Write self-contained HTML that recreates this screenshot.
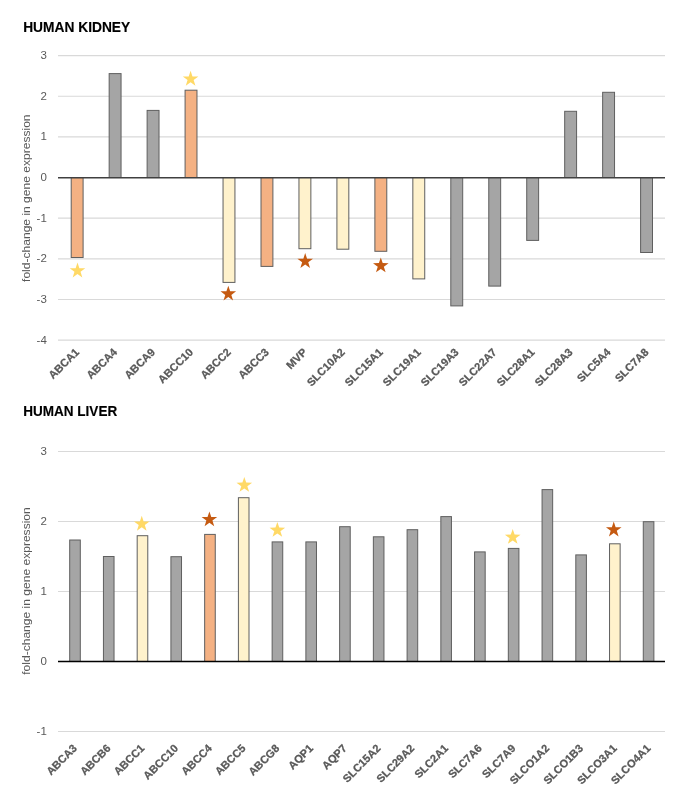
<!DOCTYPE html>
<html><head><meta charset="utf-8"><style>
html,body{margin:0;padding:0;background:#fff;}
body{width:685px;height:798px;overflow:hidden;}
svg{display:block;will-change:transform;}
text{font-family:"Liberation Sans",sans-serif;}
.title{font-size:15.3px;font-weight:bold;fill:#000;stroke:#000;stroke-width:0.15px;}
.ytick{font-size:11.5px;fill:#595959;}
.ytitle{font-size:11px;fill:#595959;}
.xlab{font-size:11px;font-weight:bold;fill:#595959;stroke:#595959;stroke-width:0.25px;}
</style></head><body>
<svg width="685" height="798" viewBox="0 0 685 798">
<rect width="685" height="798" fill="#fff"/>
<text x="23.2" y="31.8" class="title" textLength="107.0" lengthAdjust="spacingAndGlyphs">HUMAN KIDNEY</text>
<line x1="58" x2="665" y1="55.55" y2="55.55" stroke="#D9D9D9" stroke-width="1.15"/>
<text x="46.8" y="58.90" class="ytick" text-anchor="end">3</text>
<line x1="58" x2="665" y1="96.21" y2="96.21" stroke="#D9D9D9" stroke-width="1.15"/>
<text x="46.8" y="99.56" class="ytick" text-anchor="end">2</text>
<line x1="58" x2="665" y1="136.87" y2="136.87" stroke="#D9D9D9" stroke-width="1.15"/>
<text x="46.8" y="140.22" class="ytick" text-anchor="end">1</text>
<text x="46.8" y="180.88" class="ytick" text-anchor="end">0</text>
<line x1="58" x2="665" y1="218.19" y2="218.19" stroke="#D9D9D9" stroke-width="1.15"/>
<text x="46.8" y="221.54" class="ytick" text-anchor="end">-1</text>
<line x1="58" x2="665" y1="258.85" y2="258.85" stroke="#D9D9D9" stroke-width="1.15"/>
<text x="46.8" y="262.20" class="ytick" text-anchor="end">-2</text>
<line x1="58" x2="665" y1="299.51" y2="299.51" stroke="#D9D9D9" stroke-width="1.15"/>
<text x="46.8" y="302.86" class="ytick" text-anchor="end">-3</text>
<line x1="58" x2="665" y1="340.17" y2="340.17" stroke="#D9D9D9" stroke-width="1.15"/>
<text x="46.8" y="343.52" class="ytick" text-anchor="end">-4</text>
<rect x="71.20" y="177.53" width="11.9" height="79.97" fill="#F4B183" stroke="#5f5f5f" stroke-width="1"/>
<rect x="109.16" y="73.60" width="11.9" height="103.93" fill="#A5A5A5" stroke="#5f5f5f" stroke-width="1"/>
<rect x="147.12" y="110.40" width="11.9" height="67.13" fill="#A5A5A5" stroke="#5f5f5f" stroke-width="1"/>
<rect x="185.08" y="90.20" width="11.9" height="87.33" fill="#F4B183" stroke="#5f5f5f" stroke-width="1"/>
<rect x="223.04" y="177.53" width="11.9" height="104.87" fill="#FFF2CC" stroke="#5f5f5f" stroke-width="1"/>
<rect x="261.00" y="177.53" width="11.9" height="88.87" fill="#F4B183" stroke="#5f5f5f" stroke-width="1"/>
<rect x="298.96" y="177.53" width="11.9" height="71.17" fill="#FFF2CC" stroke="#5f5f5f" stroke-width="1"/>
<rect x="336.92" y="177.53" width="11.9" height="71.67" fill="#FFF2CC" stroke="#5f5f5f" stroke-width="1"/>
<rect x="374.88" y="177.53" width="11.9" height="73.77" fill="#F4B183" stroke="#5f5f5f" stroke-width="1"/>
<rect x="412.84" y="177.53" width="11.9" height="101.37" fill="#FFF2CC" stroke="#5f5f5f" stroke-width="1"/>
<rect x="450.80" y="177.53" width="11.9" height="128.37" fill="#A5A5A5" stroke="#5f5f5f" stroke-width="1"/>
<rect x="488.76" y="177.53" width="11.9" height="108.57" fill="#A5A5A5" stroke="#5f5f5f" stroke-width="1"/>
<rect x="526.72" y="177.53" width="11.9" height="62.87" fill="#A5A5A5" stroke="#5f5f5f" stroke-width="1"/>
<rect x="564.68" y="111.30" width="11.9" height="66.23" fill="#A5A5A5" stroke="#5f5f5f" stroke-width="1"/>
<rect x="602.64" y="92.30" width="11.9" height="85.23" fill="#A5A5A5" stroke="#5f5f5f" stroke-width="1"/>
<rect x="640.60" y="177.53" width="11.9" height="74.97" fill="#A5A5A5" stroke="#5f5f5f" stroke-width="1"/>
<line x1="58" x2="665" y1="177.65" y2="177.65" stroke="#404040" stroke-width="1.5"/>
<polygon points="77.50,262.55 79.38,268.16 85.30,268.22 80.54,271.74 82.32,277.38 77.50,273.95 72.68,277.38 74.46,271.74 69.70,268.22 75.62,268.16" fill="#FFD966"/>
<polygon points="190.60,70.84 192.48,76.45 198.40,76.51 193.64,80.03 195.42,85.67 190.60,82.24 185.78,85.67 187.56,80.03 182.80,76.51 188.72,76.45" fill="#FFD966"/>
<polygon points="228.30,285.70 230.18,291.31 236.10,291.37 231.34,294.89 233.12,300.53 228.30,297.10 223.48,300.53 225.26,294.89 220.50,291.37 226.42,291.31" fill="#C55A11"/>
<polygon points="305.20,253.10 307.08,258.71 313.00,258.77 308.24,262.29 310.02,267.93 305.20,264.50 300.38,267.93 302.16,262.29 297.40,258.77 303.32,258.71" fill="#C55A11"/>
<polygon points="380.80,257.50 382.68,263.11 388.60,263.17 383.84,266.69 385.62,272.33 380.80,268.90 375.98,272.33 377.76,266.69 373.00,263.17 378.92,263.11" fill="#C55A11"/>
<text x="79.85" y="352.80" class="xlab" text-anchor="end" transform="rotate(-45 79.85 352.80)">ABCA1</text>
<text x="117.81" y="352.80" class="xlab" text-anchor="end" transform="rotate(-45 117.81 352.80)">ABCA4</text>
<text x="155.77" y="352.80" class="xlab" text-anchor="end" transform="rotate(-45 155.77 352.80)">ABCA9</text>
<text x="193.73" y="352.80" class="xlab" text-anchor="end" transform="rotate(-45 193.73 352.80)">ABCC10</text>
<text x="231.69" y="352.80" class="xlab" text-anchor="end" transform="rotate(-45 231.69 352.80)">ABCC2</text>
<text x="269.65" y="352.80" class="xlab" text-anchor="end" transform="rotate(-45 269.65 352.80)">ABCC3</text>
<text x="307.61" y="352.80" class="xlab" text-anchor="end" transform="rotate(-45 307.61 352.80)">MVP</text>
<text x="345.57" y="352.80" class="xlab" text-anchor="end" transform="rotate(-45 345.57 352.80)">SLC10A2</text>
<text x="383.53" y="352.80" class="xlab" text-anchor="end" transform="rotate(-45 383.53 352.80)">SLC15A1</text>
<text x="421.49" y="352.80" class="xlab" text-anchor="end" transform="rotate(-45 421.49 352.80)">SLC19A1</text>
<text x="459.45" y="352.80" class="xlab" text-anchor="end" transform="rotate(-45 459.45 352.80)">SLC19A3</text>
<text x="497.41" y="352.80" class="xlab" text-anchor="end" transform="rotate(-45 497.41 352.80)">SLC22A7</text>
<text x="535.37" y="352.80" class="xlab" text-anchor="end" transform="rotate(-45 535.37 352.80)">SLC28A1</text>
<text x="573.33" y="352.80" class="xlab" text-anchor="end" transform="rotate(-45 573.33 352.80)">SLC28A3</text>
<text x="611.29" y="352.80" class="xlab" text-anchor="end" transform="rotate(-45 611.29 352.80)">SLC5A4</text>
<text x="649.25" y="352.80" class="xlab" text-anchor="end" transform="rotate(-45 649.25 352.80)">SLC7A8</text>
<text x="0" y="0" class="ytitle" text-anchor="middle" textLength="167.5" lengthAdjust="spacingAndGlyphs" transform="translate(29.6 198.2) rotate(-90)">fold-change in gene expression</text>
<text x="23.2" y="416.0" class="title" textLength="94.0" lengthAdjust="spacingAndGlyphs">HUMAN LIVER</text>
<line x1="58" x2="665" y1="451.50" y2="451.50" stroke="#D9D9D9" stroke-width="1.15"/>
<text x="46.8" y="454.85" class="ytick" text-anchor="end">3</text>
<line x1="58" x2="665" y1="521.50" y2="521.50" stroke="#D9D9D9" stroke-width="1.15"/>
<text x="46.8" y="524.85" class="ytick" text-anchor="end">2</text>
<line x1="58" x2="665" y1="591.50" y2="591.50" stroke="#D9D9D9" stroke-width="1.15"/>
<text x="46.8" y="594.85" class="ytick" text-anchor="end">1</text>
<text x="46.8" y="664.85" class="ytick" text-anchor="end">0</text>
<line x1="58" x2="665" y1="731.50" y2="731.50" stroke="#D9D9D9" stroke-width="1.15"/>
<text x="46.8" y="734.85" class="ytick" text-anchor="end">-1</text>
<rect x="69.70" y="540.00" width="10.6" height="121.50" fill="#A5A5A5" stroke="#5f5f5f" stroke-width="1"/>
<rect x="103.44" y="556.50" width="10.6" height="105.00" fill="#A5A5A5" stroke="#5f5f5f" stroke-width="1"/>
<rect x="137.18" y="535.70" width="10.6" height="125.80" fill="#FFF2CC" stroke="#5f5f5f" stroke-width="1"/>
<rect x="170.92" y="556.70" width="10.6" height="104.80" fill="#A5A5A5" stroke="#5f5f5f" stroke-width="1"/>
<rect x="204.66" y="534.40" width="10.6" height="127.10" fill="#F4B183" stroke="#5f5f5f" stroke-width="1"/>
<rect x="238.40" y="497.70" width="10.6" height="163.80" fill="#FFF2CC" stroke="#5f5f5f" stroke-width="1"/>
<rect x="272.14" y="541.90" width="10.6" height="119.60" fill="#A5A5A5" stroke="#5f5f5f" stroke-width="1"/>
<rect x="305.88" y="541.90" width="10.6" height="119.60" fill="#A5A5A5" stroke="#5f5f5f" stroke-width="1"/>
<rect x="339.62" y="526.70" width="10.6" height="134.80" fill="#A5A5A5" stroke="#5f5f5f" stroke-width="1"/>
<rect x="373.36" y="536.80" width="10.6" height="124.70" fill="#A5A5A5" stroke="#5f5f5f" stroke-width="1"/>
<rect x="407.10" y="529.70" width="10.6" height="131.80" fill="#A5A5A5" stroke="#5f5f5f" stroke-width="1"/>
<rect x="440.84" y="516.60" width="10.6" height="144.90" fill="#A5A5A5" stroke="#5f5f5f" stroke-width="1"/>
<rect x="474.58" y="551.90" width="10.6" height="109.60" fill="#A5A5A5" stroke="#5f5f5f" stroke-width="1"/>
<rect x="508.32" y="548.40" width="10.6" height="113.10" fill="#A5A5A5" stroke="#5f5f5f" stroke-width="1"/>
<rect x="542.06" y="489.60" width="10.6" height="171.90" fill="#A5A5A5" stroke="#5f5f5f" stroke-width="1"/>
<rect x="575.80" y="554.90" width="10.6" height="106.60" fill="#A5A5A5" stroke="#5f5f5f" stroke-width="1"/>
<rect x="609.54" y="543.80" width="10.6" height="117.70" fill="#FFF2CC" stroke="#5f5f5f" stroke-width="1"/>
<rect x="643.28" y="521.70" width="10.6" height="139.80" fill="#A5A5A5" stroke="#5f5f5f" stroke-width="1"/>
<line x1="58" x2="665" y1="661.62" y2="661.62" stroke="#000000" stroke-width="1.5"/>
<polygon points="141.75,515.80 143.63,521.41 149.55,521.47 144.79,524.99 146.57,530.63 141.75,527.20 136.93,530.63 138.71,524.99 133.95,521.47 139.87,521.41" fill="#FFD966"/>
<polygon points="209.40,511.40 211.28,517.01 217.20,517.07 212.44,520.59 214.22,526.23 209.40,522.80 204.58,526.23 206.36,520.59 201.60,517.07 207.52,517.01" fill="#C55A11"/>
<polygon points="244.30,477.00 246.18,482.61 252.10,482.67 247.34,486.19 249.12,491.83 244.30,488.40 239.48,491.83 241.26,486.19 236.50,482.67 242.42,482.61" fill="#FFD966"/>
<polygon points="277.35,522.00 279.23,527.61 285.15,527.67 280.39,531.19 282.17,536.83 277.35,533.40 272.53,536.83 274.31,531.19 269.55,527.67 275.47,527.61" fill="#FFD966"/>
<polygon points="512.70,529.00 514.58,534.61 520.50,534.67 515.74,538.19 517.52,543.83 512.70,540.40 507.88,543.83 509.66,538.19 504.90,534.67 510.82,534.61" fill="#FFD966"/>
<polygon points="613.75,521.60 615.63,527.21 621.55,527.27 616.79,530.79 618.57,536.43 613.75,533.00 608.93,536.43 610.71,530.79 605.95,527.27 611.87,527.21" fill="#C55A11"/>
<text x="77.70" y="749.00" class="xlab" text-anchor="end" transform="rotate(-45 77.70 749.00)">ABCA3</text>
<text x="111.44" y="749.00" class="xlab" text-anchor="end" transform="rotate(-45 111.44 749.00)">ABCB6</text>
<text x="145.18" y="749.00" class="xlab" text-anchor="end" transform="rotate(-45 145.18 749.00)">ABCC1</text>
<text x="178.92" y="749.00" class="xlab" text-anchor="end" transform="rotate(-45 178.92 749.00)">ABCC10</text>
<text x="212.66" y="749.00" class="xlab" text-anchor="end" transform="rotate(-45 212.66 749.00)">ABCC4</text>
<text x="246.40" y="749.00" class="xlab" text-anchor="end" transform="rotate(-45 246.40 749.00)">ABCC5</text>
<text x="280.14" y="749.00" class="xlab" text-anchor="end" transform="rotate(-45 280.14 749.00)">ABCG8</text>
<text x="313.88" y="749.00" class="xlab" text-anchor="end" transform="rotate(-45 313.88 749.00)">AQP1</text>
<text x="347.62" y="749.00" class="xlab" text-anchor="end" transform="rotate(-45 347.62 749.00)">AQP7</text>
<text x="381.36" y="749.00" class="xlab" text-anchor="end" transform="rotate(-45 381.36 749.00)">SLC15A2</text>
<text x="415.10" y="749.00" class="xlab" text-anchor="end" transform="rotate(-45 415.10 749.00)">SLC29A2</text>
<text x="448.84" y="749.00" class="xlab" text-anchor="end" transform="rotate(-45 448.84 749.00)">SLC2A1</text>
<text x="482.58" y="749.00" class="xlab" text-anchor="end" transform="rotate(-45 482.58 749.00)">SLC7A6</text>
<text x="516.32" y="749.00" class="xlab" text-anchor="end" transform="rotate(-45 516.32 749.00)">SLC7A9</text>
<text x="550.06" y="749.00" class="xlab" text-anchor="end" transform="rotate(-45 550.06 749.00)">SLCO1A2</text>
<text x="583.80" y="749.00" class="xlab" text-anchor="end" transform="rotate(-45 583.80 749.00)">SLCO1B3</text>
<text x="617.54" y="749.00" class="xlab" text-anchor="end" transform="rotate(-45 617.54 749.00)">SLCO3A1</text>
<text x="651.28" y="749.00" class="xlab" text-anchor="end" transform="rotate(-45 651.28 749.00)">SLCO4A1</text>
<text x="0" y="0" class="ytitle" text-anchor="middle" textLength="167.5" lengthAdjust="spacingAndGlyphs" transform="translate(29.6 591.0) rotate(-90)">fold-change in gene expression</text>
</svg>
</body></html>
